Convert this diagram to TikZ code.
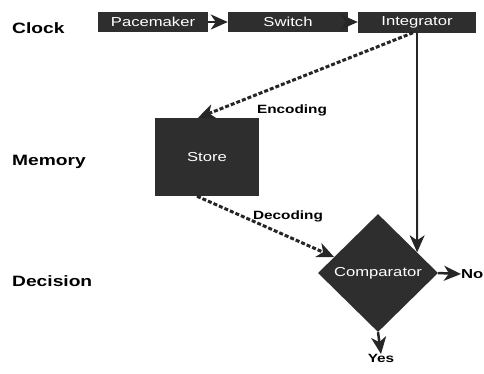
\documentclass[tikz,border=0pt]{standalone}
\usepackage{fontspec}
\setmainfont{Liberation Sans}
\newfontfamily\wide[FakeStretch=1.28]{Liberation Sans}
\usetikzlibrary{shapes.geometric,arrows.meta,calc}
\begin{document}
\begin{tikzpicture}[x=1pt,y=-1pt,
  box/.style={draw=none,fill=black!82,text=white,font=\wide\fontsize{13}{13}\selectfont,inner sep=0pt},
  lab/.style={font=\wide\bfseries\fontsize{15}{15}\selectfont,anchor=base west,inner sep=0pt},
  elab/.style={font=\wide\bfseries\fontsize{12}{12}\selectfont,anchor=base,inner sep=0pt},
  tip/.style={-{Stealth[length=17pt,width=15pt,inset=5pt]}},
  arr/.style={tip,line width=2.5pt,draw=black!85},
  darr/.style={arr,line width=3pt,dash pattern=on 4pt off 2pt},
  ]
\useasboundingbox (0,0) rectangle (484,373);
\node[box,minimum width=110pt,minimum height=20pt] (pace) at (153,22) {Pacemaker};
\node[box,minimum width=120pt,minimum height=20pt] (sw) at (288,22) {Switch};
\node[box,minimum width=118pt,minimum height=21pt] (integ) at (417,22) {Integrator};
\node[box,minimum width=104pt,minimum height=78pt] (store) at (207,157) {Store};
\node[box,diamond,minimum width=120pt,minimum height=118pt] (comp) at (378,273) {Comparator};
\node[lab] (clock) at (12,33) {Clock};
\node[lab] (mem) at (12,165) {Memory};
\node[lab] (dec) at (12,286) {Decision};
\node[elab] (enc) at (292,113) {Encoding};
\node[elab] (deco) at (288,219) {Decoding};
\node[elab,anchor=west,font=\wide\bfseries\fontsize{13}{13}\selectfont] (no) at (461,274) {No};
\node[elab,anchor=north] (yes) at (381,354) {Yes};
\draw[arr] (pace) -- (sw);
\draw[arr] (sw) -- (integ);
\draw[darr] ([xshift=-4pt]integ.south) -- ([xshift=-9pt]store.north);
\draw[darr] ([xshift=-10pt]store.south) -- (comp.160);
\draw[arr,line width=1.8pt] (integ.south) -- ($(comp.north)!0.65!(comp.east)$);
\draw[arr] (comp.east) -- (no.west);
\draw[arr] (comp.south) -- (yes.north);
\end{tikzpicture}
\end{document}
